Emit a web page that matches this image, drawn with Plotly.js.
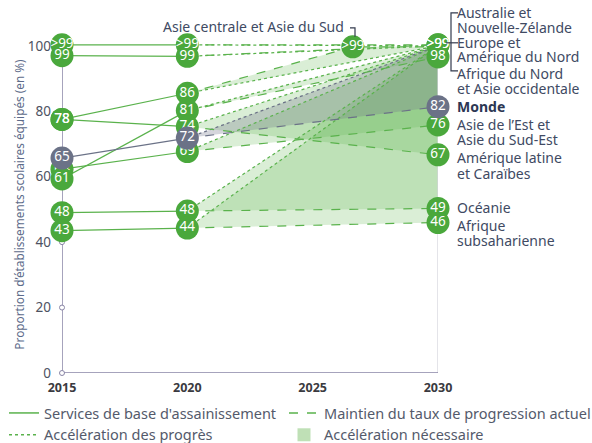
<!DOCTYPE html>
<html>
<head>
<meta charset="utf-8">
<script src="https://cdn.plot.ly/plotly-3.0.1.min.js"></script>
<style>
  html, body { margin: 0; padding: 0; background: #fff; }
  #chart { width: 592px; height: 443px; }
</style>
</head>
<body>
<div id="chart"></div>
<script>
// ---------- DATA ----------
const years = [2015, 2020, 2030];
const regionNames = [
  'Australie et Nouvelle-Zélande',
  'Europe et Amérique du Nord',
  'Afrique du Nord et Asie occidentale',
  'Asie centrale et Asie du Sud',
  'Asie de l’Est et Asie du Sud-Est',
  'Amérique latine et Caraïbes',
  'Océanie',
  'Afrique subsaharienne'
];
// value labels as printed in the markers
const labels2015 = ['>99', '99', '61', '78', '64', '78', '48', '43'];
const labels2020 = ['>99', '99', '81', '86', '69', '74', '48', '44'];
const labels2030 = ['>99', '>99', '98', '>99', '76', '67', '49', '46'];
// plotted heights (markers nudged apart where they crowd)
const pos2015 = [100.3, 97.0, 59.3, 77.5, 62.3, 77.5, 49.0, 43.5];
const pos2020 = [100.3, 96.8, 80.2, 85.5, 67.7, 75.3, 49.5, 44.3];
const pos2030 = [100.3, 100.3, 96.6, 99.7, 75.8, 66.7, 50.3, 46.0];
// year in which the "current rate" projection reaches its end marker
const endYear = [2030, 2030, 2030, 2026.6, 2030, 2030, 2030, 2030];
// world
const worldLabels = ['65', '72', '82'];
const worldPos = [65.7, 71.8, 81.4];
// acceleration target for 2030
const target2030 = 100;
// axis ticks
const yTicks = [0, 20, 40, 60, 80, 100];
const xTicks = [2015, 2020, 2025, 2030];

// right-hand labels (one entry per printed line) and their pixel rows
const rightLines = ['Australie et', 'Nouvelle-Zélande', 'Europe et', 'Amérique du Nord',
  'Afrique du Nord', 'et Asie occidentale', 'Monde', 'Asie de l’Est et', 'Asie du Sud-Est',
  'Amérique latine', 'et Caraïbes', 'Océanie', 'Afrique', 'subsaharienne'];
const rightLinesY = [13, 28, 43, 57, 74, 89, 107, 125, 140, 158, 174, 208, 226, 241];

// ---------- STYLE ----------
const GREEN_M = '#4aa83c';
const GREEN_L = '#5ab24c';
const GREY_M = '#6b7287';
const AXIS = '#8985a6';
const FILL_G = 'rgba(100,185,85,0.24)';
const FILL_W = 'rgba(115,120,140,0.30)';
const FONT = 'Noto Sans, Open Sans, sans-serif';
const TXT = '#404a63';

// pixel helpers: y = 0 at 373px, y = 100 at 46px; axis range extended to 103 (headroom for >99 markers)
const YMAX = 103;
const W = 592, H = 443, L = 62, R = 154, B = 70;
const PX_PER_UNIT = 3.27;
const T = (H - B) - YMAX * PX_PER_UNIT;
const PW = W - L - R, PH = H - T - B;
const px2paperX = p => (p - L) / PW;
const px2paperY = p => (H - B - p) / PH;

const traces = [];

// fills: acceleration needed
regionNames.forEach((n, i) => {
  if (labels2030[i] === '>99' && endYear[i] === 2030) return;
  traces.push({
    type: 'scatter', mode: 'lines', fill: 'toself', fillcolor: FILL_G,
    x: [years[1], endYear[i], years[2], years[2]],
    y: [pos2020[i], pos2030[i], pos2030[i], target2030],
    line: { width: 0 }, hoverinfo: 'skip', showlegend: false
  });
});
traces.push({
  type: 'scatter', mode: 'lines', fill: 'toself', fillcolor: FILL_W,
  x: [years[1], years[2], years[2]],
  y: [worldPos[1], worldPos[2], target2030],
  line: { width: 0 }, hoverinfo: 'skip', showlegend: false
});

// 2030 light vertical line
traces.push({
  type: 'scatter', mode: 'lines', x: [2030, 2030], y: [0, 100],
  line: { color: '#d2d2da', width: 1.2 }, hoverinfo: 'skip', showlegend: false
});

// dotted acceleration lines
regionNames.forEach((n, i) => {
  traces.push({
    type: 'scatter', mode: 'lines',
    x: [years[1], years[2]], y: [pos2020[i], target2030],
    line: { color: GREEN_L, width: 1.2, dash: 'dot' }, hoverinfo: 'skip', showlegend: false
  });
});
traces.push({
  type: 'scatter', mode: 'lines',
  x: [years[1], years[2]], y: [worldPos[1], target2030],
  line: { color: GREY_M, width: 1.2, dash: 'dot' }, hoverinfo: 'skip', showlegend: false
});

// dashed current-rate lines
regionNames.forEach((n, i) => {
  traces.push({
    type: 'scatter', mode: 'lines',
    x: [years[1], endYear[i], years[2]], y: [pos2020[i], pos2030[i], pos2030[i]],
    line: { color: GREEN_L, width: 1.2, dash: 'dash' }, hoverinfo: 'skip', showlegend: false
  });
});
traces.push({
  type: 'scatter', mode: 'lines',
  x: [years[1], years[2]], y: [worldPos[1], worldPos[2]],
  line: { color: GREY_M, width: 1.2, dash: 'dash' }, hoverinfo: 'skip', showlegend: false
});

// solid historical lines
regionNames.forEach((n, i) => {
  traces.push({
    type: 'scatter', mode: 'lines',
    x: [years[0], years[1]], y: [pos2015[i], pos2020[i]],
    line: { color: GREEN_L, width: 1.2 }, hoverinfo: 'skip', showlegend: false
  });
});
traces.push({
  type: 'scatter', mode: 'lines',
  x: [years[0], years[1]], y: [worldPos[0], worldPos[1]],
  line: { color: GREY_M, width: 1.2 }, hoverinfo: 'skip', showlegend: false
});

// axis lines + tick dots
traces.push({
  type: 'scatter', mode: 'lines', x: [2015, 2015], y: [0, 100],
  line: { color: AXIS, width: 1.5 }, hoverinfo: 'skip', showlegend: false, cliponaxis: false
});
traces.push({
  type: 'scatter', mode: 'lines', x: [2015, 2030], y: [0, 0],
  line: { color: AXIS, width: 1.5 }, hoverinfo: 'skip', showlegend: false, cliponaxis: false
});
traces.push({
  type: 'scatter', mode: 'markers', x: yTicks.map(() => 2015), y: yTicks,
  marker: { size: 5, color: '#fff', line: { color: AXIS, width: 1 } },
  hoverinfo: 'skip', showlegend: false, cliponaxis: false
});

// ---------- markers ----------
const greenPts = [];
regionNames.forEach((n, i) => {
  greenPts.push({ x: years[0], y: pos2015[i], t: labels2015[i], key: '2015-' + i });
  greenPts.push({ x: years[1], y: pos2020[i], t: labels2020[i], key: '2020-' + i });
  greenPts.push({ x: endYear[i], y: pos2030[i], t: labels2030[i], key: '2030-' + i });
});
const drawnLast = ['2015-2']; // covers the crowded 2015 marker just above it
const basePts = greenPts.filter(p => drawnLast.indexOf(p.key) < 0);
const lastPts = greenPts.filter(p => drawnLast.indexOf(p.key) >= 0);

function markerOnly(arr, color) {
  return { type: 'scatter', mode: 'markers', x: arr.map(p => p.x), y: arr.map(p => p.y),
    marker: { size: 23, color: color, line: { width: 0 } },
    cliponaxis: false, hoverinfo: 'skip', showlegend: false };
}
function textOnly(arr) {
  return { type: 'scatter', mode: 'text', x: arr.map(p => p.x), y: arr.map(p => p.y),
    text: arr.map(p => p.t), textposition: 'middle center',
    textfont: { color: '#fff', size: 13.5, family: FONT },
    cliponaxis: false, hoverinfo: 'skip', showlegend: false };
}
traces.push(markerOnly(basePts, GREEN_M));
traces.push(textOnly(basePts));
traces.push(markerOnly(lastPts, GREEN_M));
traces.push(textOnly(lastPts));
const worldPts = years.map((yr, k) => ({ x: yr, y: worldPos[k], t: worldLabels[k] }));
traces.push(markerOnly(worldPts, GREY_M));
traces.push(textOnly(worldPts));

// legend entries (two columns = two legends)
traces.push({ type: 'scatter', mode: 'lines', x: [null], y: [null], name: 'Services de base d\'assainissement',
  line: { color: GREEN_L, width: 1.5 }, legend: 'legend', legendrank: 1 });
traces.push({ type: 'scatter', mode: 'lines', x: [null], y: [null], name: 'Accélération des progrès',
  line: { color: GREEN_L, width: 1.5, dash: 'dot' }, legend: 'legend', legendrank: 2 });
traces.push({ type: 'scatter', mode: 'lines', x: [null], y: [null], name: 'Maintien du taux de progression actuel',
  line: { color: GREEN_L, width: 1.5, dash: 'dash' }, legend: 'legend2', legendrank: 1 });
traces.push({ type: 'scatter', mode: 'markers', x: [null], y: [null], name: 'Accélération nécessaire',
  marker: { symbol: 'square', size: 13, color: '#bfe0b6' }, legend: 'legend2', legendrank: 2 });

// annotations
const annotations = rightLines.map((t, k) => ({
  xref: 'paper', yref: 'paper', x: px2paperX(455), y: px2paperY(rightLinesY[k]),
  xanchor: 'left', yanchor: 'middle', showarrow: false, text: t === 'Monde' ? '<b>Monde</b>' : t,
  font: { family: FONT, size: 14, color: t === 'Monde' ? '#2c3753' : TXT }
}));
annotations.push({
  xref: 'paper', yref: 'paper', x: px2paperX(346), y: px2paperY(27),
  xanchor: 'right', yanchor: 'middle', showarrow: false, text: regionNames[3],
  font: { family: FONT, size: 14, color: TXT }
});

const shapes = [
  { type: 'path', xref: 'paper', yref: 'paper', line: { color: '#333a4d', width: 1.2 },
    path: `M ${px2paperX(458)} ${px2paperY(13)} L ${px2paperX(451)} ${px2paperY(13)} L ${px2paperX(451)} ${px2paperY(71)} L ${px2paperX(458)} ${px2paperY(71)}` },
  { type: 'line', xref: 'paper', yref: 'paper', line: { color: '#333a4d', width: 1.2 },
    x0: px2paperX(446), x1: px2paperX(458), y0: px2paperY(43), y1: px2paperY(43) },
  { type: 'path', xref: 'paper', yref: 'paper', line: { color: '#333a4d', width: 1.2 },
    path: `M ${px2paperX(350)} ${px2paperY(28)} L ${px2paperX(355)} ${px2paperY(28)} L ${px2paperX(355)} ${px2paperY(37)}` }
];

const legendBase = {
  orientation: 'v', yanchor: 'top', xanchor: 'left', itemwidth: 30,
  font: { family: FONT, size: 14.5, color: '#545a6b' }, tracegroupgap: 0,
  bgcolor: 'rgba(0,0,0,0)', borderwidth: 0
};

const layout = {
  width: W, height: H,
  margin: { l: L, r: R, t: T, b: B, autoexpand: false },
  paper_bgcolor: '#fff', plot_bgcolor: '#fff',
  font: { family: FONT, color: '#555b6c' },
  showlegend: true,
  legend: Object.assign({}, legendBase, { x: px2paperX(4), y: px2paperY(397) }),
  legend2: Object.assign({}, legendBase, { x: px2paperX(284), y: px2paperY(397) }),
  xaxis: {
    range: [2015, 2030], tickvals: xTicks, ticktext: xTicks.map(String),
    showgrid: false, zeroline: false, showline: false, ticks: '',
    tickfont: { family: FONT, size: 12.5, color: '#3a3a40', weight: 'bold' },
    ticklabelstandoff: 5, fixedrange: true
  },
  yaxis: {
    range: [0, YMAX], tickvals: yTicks, showgrid: false, zeroline: false, showline: false, ticks: '',
    tickfont: { family: FONT, size: 13.5, color: '#4e5262' }, ticklabelstandoff: 10,
    title: { text: 'Proportion d’établissements scolaires équipés (en %)', standoff: 0,
      font: { family: FONT, size: 11.8, color: '#5d6b8a' } },
    fixedrange: true
  },
  annotations, shapes
};

Plotly.newPlot('chart', traces, layout, { staticPlot: true, displayModeBar: false });
</script>
</body>
</html>
